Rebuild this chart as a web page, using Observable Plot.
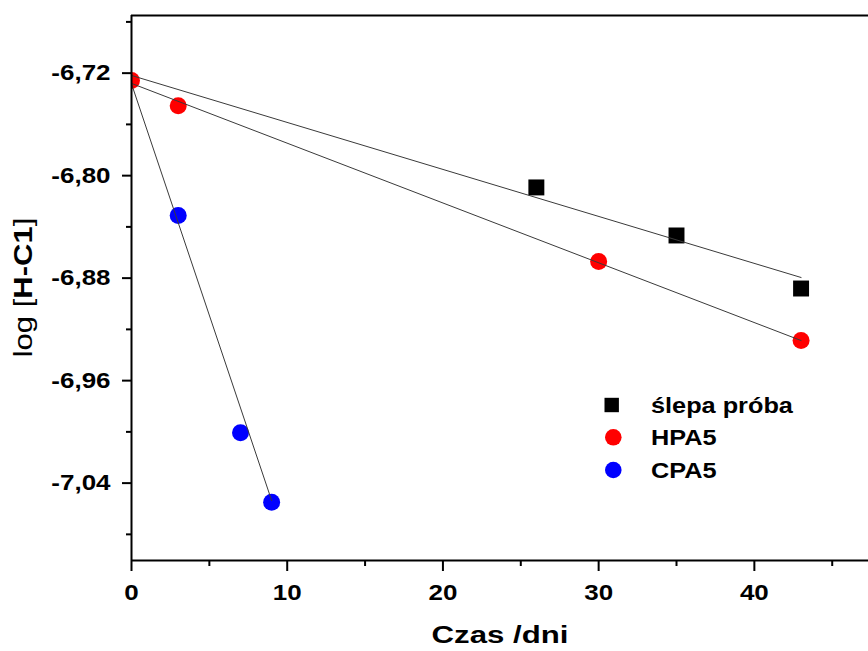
<!DOCTYPE html>
<html><head><meta charset="utf-8">
<script src="https://cdn.jsdelivr.net/npm/d3@7"></script>
<script src="https://cdn.jsdelivr.net/npm/@observablehq/plot@0.6"></script>
<style>
body{margin:0;background:#fff;}
#chart svg{font-family:"Liberation Sans",Arial,sans-serif;}
</style></head><body><div id="chart"></div>
<script>
const seriesNames = ["ślepa próba", "HPA5", "CPA5"];
const seriesColors = ["#000000", "#ff0000", "#0000ff"];
const seriesSymbols = ["square", "circle", "circle"];

const blankDays = [26, 35, 43];
const blankLog = [-6.8092, -6.8467, -6.8881];
const hpaDays = [0, 3, 30, 43];
const hpaLog = [-6.7257, -6.7454, -6.8670, -6.9287];
const cpaDays = [3, 7, 9];
const cpaLog = [-6.8311, -7.0007, -7.0549];

const blankFitDays = [0, 43], blankFitLog = [-6.7218, -6.8795];
const hpaFitDays = [0, 43], hpaFitLog = [-6.7280, -6.9287];
const cpaFitDays = [0, 9], cpaFitLog = [-6.7283, -7.0536];

const xMajor = [0, 10, 20, 30, 40], xMinor = [5, 15, 25, 35, 45];
const yMajor = [-6.72, -6.80, -6.88, -6.96, -7.04];
const yMinor = [-6.68, -6.76, -6.84, -6.92, -7.00, -7.08];
const xDomain = [0, 47.33], yDomain = [-7.1004, -6.675];
const xTitle = "Czas /dni";
const yTitleParts = [["log [", "normal"], ["H-C1", "bold"], ["]", "normal"]];

const pts = (days, vals, s) => days.map((d, i) => ({day: d, v: vals[i], s}));
const blankPts = pts(blankDays, blankLog, 0);
const hpaPts = pts(hpaDays, hpaLog, 1);
const cpaPts = pts(cpaDays, cpaLog, 2);
const fits = [
  ...pts(blankFitDays, blankFitLog, 0),
  ...pts(hpaFitDays, hpaFitLog, 1),
  ...pts(cpaFitDays, cpaFitLog, 2)
];
const fmt = d => d.toFixed(2).replace(".", ",");
const rad = [9, 8.5, 8.5];

const W = 868, H = 651, ML = 131, MR = 0, MT = 15, MB = 91;
const chart = Plot.plot({
  width: W, height: H,
  marginLeft: ML, marginRight: MR, marginTop: MT, marginBottom: MB,
  x: {domain: xDomain, axis: null},
  y: {domain: yDomain, axis: null},
  style: {fontFamily: "Liberation Sans, Arial, sans-serif", background: "white", overflow: "visible"},
  marks: [
    Plot.axisY(yMinor, {anchor: "left", tickSize: 5, strokeWidth: 2, tickFormat: () => "", label: null}),
    Plot.axisY(yMajor, {anchor: "left", tickSize: 9, tickPadding: 12, strokeWidth: 2, tickFormat: fmt, fontSize: 22, fontWeight: "bold", label: null}),
    Plot.axisX(xMinor, {anchor: "bottom", tickSize: 6, strokeWidth: 2, tickFormat: () => "", label: null}),
    Plot.axisX(xMajor, {anchor: "bottom", tickSize: 11, tickPadding: 13, strokeWidth: 2, tickFormat: d => String(d), fontSize: 22, fontWeight: "bold", label: null}),
    ...[blankPts, hpaPts, cpaPts].map((data, i) =>
      Plot.dot(data, {x: "day", y: "v", symbol: seriesSymbols[i], fill: seriesColors[i], r: rad[i], clip: true})),
    Plot.line(fits, {x: "day", y: "v", z: "s", stroke: "#3a3a3a", strokeWidth: 1, clip: true}),
    Plot.ruleY([yDomain[1]], {stroke: "#000", strokeWidth: 2}),
    Plot.ruleY([yDomain[0]], {stroke: "#000", strokeWidth: 2}),
    Plot.ruleX([xDomain[0]], {stroke: "#000", strokeWidth: 2}),
    Plot.text([xTitle], {frameAnchor: "bottom", dy: 75, lineAnchor: "middle", fontSize: 24, fontWeight: "bold", fill: "#000"})
  ]
});
document.getElementById("chart").appendChild(chart);

const svg = d3.select(chart);
// make sure markers are clipped to the plot frame
svg.append("defs").append("clipPath").attr("id", "frameclip")
  .append("rect").attr("x", ML).attr("y", MT).attr("width", W - ML - MR).attr("height", H - MT - MB);
svg.selectAll('g[aria-label="dot"]').attr("clip-path", "url(#frameclip)");

// widen glyphs like the original rendering
svg.selectAll('g[aria-label$="tick label"] text').each(function() {
  const t = this.getAttribute("transform") || "";
  this.setAttribute("transform", t + " scale(1.18,1)");
});
svg.selectAll('g[aria-label="text"] text').each(function() {
  const t = this.getAttribute("transform") || "";
  this.setAttribute("transform", t + " scale(1.3,1)");
});

// y title
const yt = svg.append("text")
  .attr("transform", "translate(32,287.5) rotate(-90) scale(1.24,1)")
  .attr("text-anchor", "middle")
  .attr("font-size", 25)
  .attr("fill", "#000");
yTitleParts.forEach(([s, w]) => yt.append("tspan").attr("font-weight", w).text(s));

// legend
const lg = svg.append("g");
const legY = [405, 437.3, 470];
seriesNames.forEach((name, i) => {
  if (seriesSymbols[i] === "square") {
    lg.append("rect").attr("x", 611.7 - 7.2).attr("y", legY[i] - 7.2).attr("width", 14.4).attr("height", 14.4).attr("fill", seriesColors[i]);
  } else {
    lg.append("circle").attr("cx", 613.3).attr("cy", legY[i]).attr("r", 8.3).attr("fill", seriesColors[i]);
  }
  lg.append("text").attr("transform", `translate(651,${legY[i]}) scale(1.15,1)`)
    .attr("text-anchor", "start")
    .attr("dy", "0.36em").attr("font-size", 22).attr("font-weight", "bold").attr("fill", "#000").text(name);
});
</script></body></html>
